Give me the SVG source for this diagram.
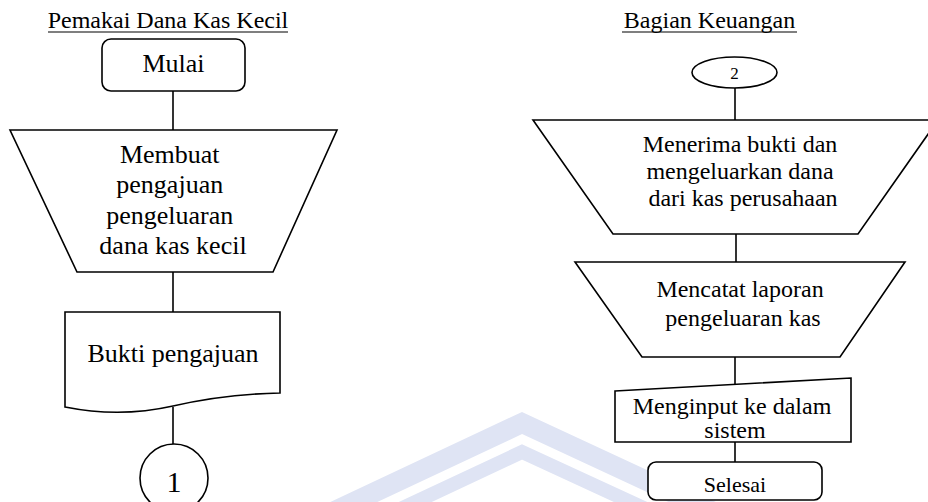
<svg xmlns="http://www.w3.org/2000/svg" width="928" height="502" viewBox="0 0 928 502">
  <style>
    .shape { fill: #ffffff; stroke: #000000; stroke-width: 1.6; }
    .conn { fill: none; stroke: #000000; stroke-width: 1.6; }
    .t { font-family: "Liberation Serif", "Times New Roman", serif; fill: #000000; text-anchor: middle; }
    .wm { fill: none; stroke: #dfe4f4; stroke-linejoin: miter; }
    .ul { stroke: #000000; stroke-width: 1.2; }
  </style>
  <rect width="928" height="502" fill="#ffffff"/>

  <g id="watermark">
    <polyline class="wm" stroke-width="20" points="290,532 522,423 830,566"/>
    <polyline class="wm" stroke-width="14" points="300,556 522,452 800,580"/>
  </g>

  <g id="lane-titles">
    <text class="t" x="168" y="28" font-size="24">Pemakai Dana Kas Kecil</text>
    <line class="ul" x1="48" y1="32" x2="288" y2="32"/>
    <text class="t" x="709.5" y="28" font-size="24">Bagian Keuangan</text>
    <line class="ul" x1="622" y1="32" x2="797" y2="32"/>
  </g>

  <g id="connectors">
    <line class="conn" x1="173" y1="91" x2="173" y2="130"/>
    <line class="conn" x1="173" y1="272" x2="173" y2="312"/>
    <line class="conn" x1="173" y1="407" x2="173" y2="444"/>
    <line class="conn" x1="735" y1="88" x2="735" y2="120"/>
    <line class="conn" x1="736" y1="234" x2="736" y2="262"/>
    <line class="conn" x1="735" y1="357" x2="735" y2="384"/>
    <line class="conn" x1="735" y1="442" x2="735" y2="462"/>
  </g>

  <g id="mulai">
    <rect class="shape" x="102" y="39" width="143" height="52" rx="9"/>
    <text class="t" x="173.5" y="72" font-size="26">Mulai</text>
  </g>

  <g id="membuat-pengajuan">
    <polygon class="shape" points="10,130 337,130 273,272 77,272"/>
    <text class="t" x="173" font-size="26">
      <tspan x="173" y="163">Membuat</tspan>
      <tspan x="173" y="193">pengajuan</tspan>
      <tspan x="173" y="224">pengeluaran</tspan>
      <tspan x="173" y="254">dana kas kecil</tspan>
    </text>
  </g>

  <g id="bukti-pengajuan">
    <path class="shape" d="M65,312 L280,312 L280,393 Q225,394 173,406 Q120,418 65,407 Z"/>
    <text class="t" x="173" y="362" font-size="26">Bukti pengajuan</text>
  </g>

  <g id="konektor-1">
    <circle class="shape" cx="174" cy="478" r="34"/>
    <text class="t" x="174" y="492" font-size="30">1</text>
  </g>

  <g id="konektor-2">
    <ellipse class="shape" cx="734.5" cy="72.5" rx="42.5" ry="15.5"/>
    <text class="t" x="734.5" y="78.5" font-size="17">2</text>
  </g>

  <g id="menerima-bukti">
    <polygon class="shape" points="533,120 938,120 858,234 613,234"/>
    <text class="t" font-size="24">
      <tspan x="743" y="152">Menerima bukti dan</tspan>
      <tspan x="743" y="179">mengeluarkan dana</tspan>
      <tspan x="743" y="206">dari kas perusahaan</tspan>
    </text>
  </g>

  <g id="mencatat-laporan">
    <polygon class="shape" points="575,262 905,262 840,357 642,357"/>
    <text class="t" font-size="24">
      <tspan x="743" y="297">Mencatat laporan</tspan>
      <tspan x="743" y="326">pengeluaran kas</tspan>
    </text>
  </g>

  <g id="menginput">
    <polygon class="shape" points="615,391 851,378 851,442 615,442"/>
    <text class="t" font-size="24">
      <tspan x="735" y="414">Menginput ke dalam</tspan>
      <tspan x="735" y="438">sistem</tspan>
    </text>
  </g>

  <g id="selesai">
    <rect class="shape" x="648" y="462" width="174" height="38" rx="8"/>
    <text class="t" x="735" y="492" font-size="22">Selesai</text>
  </g>
</svg>
